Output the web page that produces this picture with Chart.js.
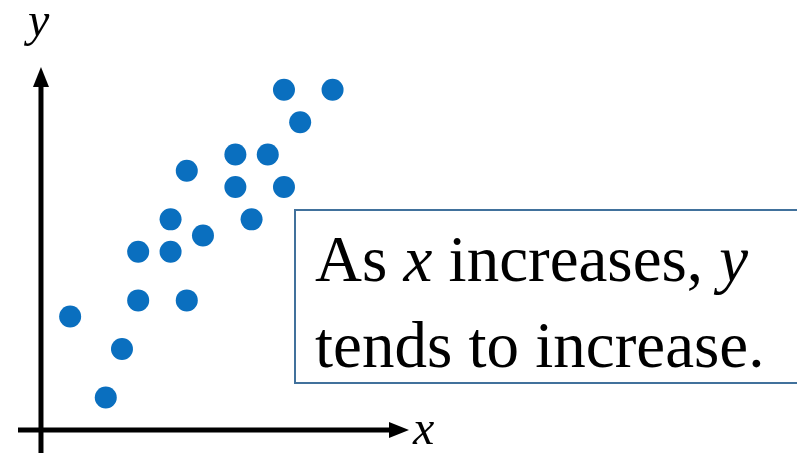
<!DOCTYPE html>
<html>
<head>
<meta charset="utf-8">
<script src="https://cdn.jsdelivr.net/npm/chart.js@4/dist/chart.umd.min.js"></script>
<style>
    html, body { margin: 0; padding: 0; background: #fff; }
    #wrap { width: 797px; height: 453px; position: relative; }
</style>
</head>
<body>
<div id="wrap"><canvas id="scatter"></canvas></div>
<script>
// points of the scatter, in axis units
const xValues = [15, 18, 16, 12, 14, 9, 12, 15, 8, 13, 10, 6, 8, 6, 9, 1.8, 5, 4];
const yValues = [21, 21, 19, 17, 17, 16, 15, 15, 13, 13, 12, 11, 11, 8, 8, 7, 5, 2];

const axisLabels = ['x', 'y'];
const noteLines = [
    [['As ', false], ['x', true], [' increases, ', false], ['y', true]],
    [['tends to increase.', false]]
];

const points = xValues.map((x, i) => ({ x: x, y: yValues[i] }));

const serif = '"Liberation Serif", "Times New Roman", serif';

// arrowed axes through the origin, plus the text box
const axesPlugin = {
    id: 'axesPlugin',
    beforeDatasetsDraw(chart) {
        const ctx = chart.ctx;
        const sx = chart.scales.x;
        const sy = chart.scales.y;
        const ox = sx.getPixelForValue(0);
        const oy = sy.getPixelForValue(0);

        ctx.save();
        ctx.strokeStyle = '#000';
        ctx.fillStyle = '#000';
        ctx.lineWidth = 5;

        // x axis
        const xEnd = 409;
        ctx.beginPath();
        ctx.moveTo(18, oy);
        ctx.lineTo(xEnd - 16, oy);
        ctx.stroke();
        ctx.beginPath();
        ctx.moveTo(xEnd, oy);
        ctx.lineTo(xEnd - 20, oy - 8);
        ctx.lineTo(xEnd - 20, oy + 8);
        ctx.closePath();
        ctx.fill();

        // y axis
        const yEnd = 67;
        ctx.beginPath();
        ctx.moveTo(ox, chart.height);
        ctx.lineTo(ox, yEnd + 16);
        ctx.stroke();
        ctx.beginPath();
        ctx.moveTo(ox, yEnd);
        ctx.lineTo(ox - 8, yEnd + 20);
        ctx.lineTo(ox + 8, yEnd + 20);
        ctx.closePath();
        ctx.fill();

        ctx.font = 'italic 48px ' + serif;
        ctx.textBaseline = 'alphabetic';
        ctx.fillText(axisLabels[0], 413, oy + 14);
        ctx.fillText(axisLabels[1], 28, 36);
        ctx.restore();
    },
    afterDatasetsDraw(chart) {
        const ctx = chart.ctx;
        ctx.save();
        ctx.fillStyle = '#fff';
        ctx.fillRect(295, 210, 510, 173);
        ctx.strokeStyle = '#41719C';
        ctx.lineWidth = 2;
        ctx.strokeRect(295, 210, 510, 173);

        ctx.fillStyle = '#000';
        ctx.textBaseline = 'alphabetic';
        const baselines = [281, 367];
        noteLines.forEach((parts, i) => {
            let x = 315;
            parts.forEach(([txt, italic]) => {
                ctx.font = (italic ? 'italic ' : '') + '65px ' + serif;
                ctx.fillText(txt, x, baselines[i]);
                x += ctx.measureText(txt).width;
            });
        });
        ctx.restore();
    }
};

new Chart(document.getElementById('scatter'), {
    type: 'scatter',
    data: {
        datasets: [{
            data: points,
            backgroundColor: '#0A6FBF',
            borderWidth: 0,
            pointRadius: 11,
            pointHoverRadius: 11
        }]
    },
    options: {
        responsive: true,
        maintainAspectRatio: false,
        animation: false,
        layout: { padding: 0, autoPadding: false },
        plugins: {
            legend: { display: false },
            tooltip: { enabled: false }
        },
        scales: {
            x: { type: 'linear', display: false, min: -2.53, max: 46.67 },
            y: { type: 'linear', display: false, min: -1.42, max: 26.54 }
        }
    },
    plugins: [axesPlugin]
});
</script>
</body>
</html>
